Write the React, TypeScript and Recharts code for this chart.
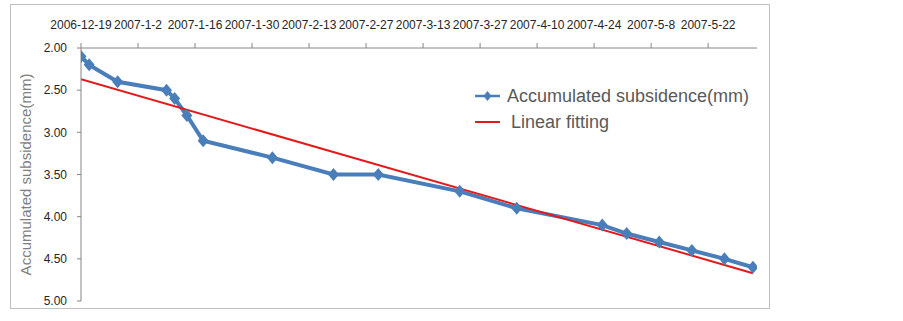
import { LineChart, Line, XAxis, YAxis } from 'recharts'

// days since 2006-12-19
const days = [0, 2, 9, 21, 23, 26, 30, 47, 62, 73, 93, 107, 128, 134, 142, 150, 158, 165]
const subsidence = [2.1, 2.2, 2.4, 2.5, 2.6, 2.8, 3.1, 3.3, 3.5, 3.5, 3.7, 3.9, 4.1, 4.2, 4.3, 4.4, 4.5, 4.6]

const fitDays = [0, 165]
const fitValues = [2.37, 4.67]

const tickDays = [0, 14, 28, 42, 56, 70, 84, 98, 112, 126, 140, 154]
const tickLabels = [
  '2006-12-19', '2007-1-2', '2007-1-16', '2007-1-30', '2007-2-13', '2007-2-27',
  '2007-3-13', '2007-3-27', '2007-4-10', '2007-4-24', '2007-5-8', '2007-5-22',
]
const yTicks = [2, 2.5, 3, 3.5, 4, 4.5, 5]

const BLUE = '#4a7ebb'
const RED = '#e31a1c'
const FONT = '"Liberation Sans", Arial, sans-serif'

const measured = days.map((d, i) => ({ day: d, value: subsidence[i] }))
const fitted = fitDays.map((d, i) => ({ day: d, fit: fitValues[i] }))

const Diamond = (props: any) => {
  const { cx, cy, index } = props
  if (cx == null || cy == null) return null
  return (
    <path
      key={`d-${index}`}
      d={`M${cx},${cy - 6.5}L${cx + 5.5},${cy}L${cx},${cy + 6.5}L${cx - 5.5},${cy}Z`}
      fill={BLUE}
    />
  )
}

function LegendBox() {
  return (
    <div style={{ fontFamily: FONT, fontSize: 18, color: '#595959', lineHeight: '26px' }}>
      <div style={{ display: 'flex', alignItems: 'center' }}>
        <svg width={32} height={14}>
          <line x1={0} y1={7} x2={25} y2={7} stroke={BLUE} strokeWidth={2.5} />
          <path d="M12.5,2L16.5,7L12.5,12L8.5,7Z" fill={BLUE} />
        </svg>
        <span>Accumulated subsidence(mm)</span>
      </div>
      <div style={{ display: 'flex', alignItems: 'center' }}>
        <svg width={36} height={14}>
          <line x1={0} y1={7} x2={25} y2={7} stroke={RED} strokeWidth={2} />
        </svg>
        <span>Linear fitting</span>
      </div>
    </div>
  )
}

export default function App() {
  return (
    <div style={{ position: 'fixed', left: 0, top: 0, width: 903, height: 321, background: '#fff' }}>
      <div
        style={{
          position: 'absolute', left: 10, top: 4, width: 758, height: 303,
          border: '1px solid #c0c0c0',
        }}
      />
      <div style={{ position: 'absolute', left: 0, top: 0 }}>
        <LineChart width={903} height={321} margin={{ top: 18, right: 146, bottom: 20, left: 10 }}>
          <XAxis
            type="number"
            dataKey="day"
            orientation="top"
            height={30}
            domain={[0, 166]}
            ticks={tickDays}
            interval={0}
            tickFormatter={(v: number) => tickLabels[tickDays.indexOf(v)] ?? ''}
            tick={{ fontSize: 12, fill: '#262626', fontFamily: FONT }}
            tickSize={5}
            tickMargin={14}
            stroke="#868686"
            allowDataOverflow
          />
          <YAxis
            type="number"
            reversed
            domain={[2, 5]}
            ticks={yTicks}
            width={71}
            interval={0}
            tickFormatter={(v: number) => v.toFixed(2)}
            tick={{ fontSize: 12, fill: '#262626', fontFamily: FONT }}
            tickSize={4}
            tickMargin={10}
            stroke="#868686"
            label={{
              value: 'Accumulated subsidence(mm)',
              angle: -90,
              position: 'insideLeft',
              offset: 16,
              style: { fontSize: 15, fill: '#7f7f7f', fontFamily: FONT, textAnchor: 'middle' },
            }}
          />
          <Line
            data={measured}
            dataKey="value"
            name="Accumulated subsidence(mm)"
            stroke={BLUE}
            strokeWidth={4}
            dot={Diamond}
            activeDot={false}
            isAnimationActive={false}
          />
          <Line
            data={fitted}
            dataKey="fit"
            name="Linear fitting"
            stroke={RED}
            strokeWidth={2}
            dot={false}
            activeDot={false}
            isAnimationActive={false}
          />
        </LineChart>
      </div>
      <div style={{ position: 'absolute', left: 475, top: 83 }}>
        <LegendBox />
      </div>
    </div>
  )
}
